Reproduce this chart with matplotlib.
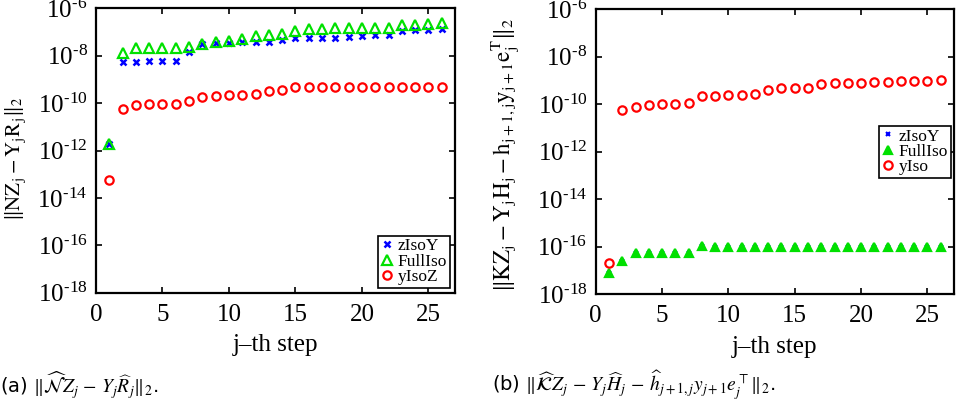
#!/usr/bin/env python3
# -*- coding: utf-8 -*-
"""
    Residual norms per step for the three isotropic variants
"""

import numpy as np
import matplotlib
matplotlib.use('Agg')
import matplotlib.pyplot as plt
from matplotlib.ticker import FixedLocator, FuncFormatter

plt.rcParams['font.family'] = ['Liberation Serif', 'DejaVu Serif']
plt.rcParams['mathtext.fontset'] = 'stix'

# step number
steps = np.arange(1, 27)

# (a) log10 of ||N Z_j - Y_j R_j||_2
a_zIsoY = np.array([-11.72, -8.28, -8.25, -8.21, -8.20, -8.20, -7.82, -7.49, -7.47,
                    -7.44, -7.42, -7.41, -7.40, -7.33, -7.25, -7.25, -7.25, -7.25,
                    -7.21, -7.16, -7.13, -7.12, -6.96, -6.93, -6.89, -6.88])
a_FullIso = np.array([-11.72, -7.89, -7.69, -7.68, -7.68, -7.68, -7.61, -7.49, -7.41,
                      -7.36, -7.27, -7.16, -7.13, -7.10, -6.95, -6.88, -6.86, -6.81,
                      -6.81, -6.81, -6.81, -6.81, -6.72, -6.69, -6.65, -6.62])
a_yIsoZ = np.array([-13.26, -10.23, -10.08, -10.02, -10.02, -10.02, -9.92, -9.73, -9.70,
                    -9.67, -9.67, -9.61, -9.50, -9.45, -9.33, -9.32, -9.32, -9.32,
                    -9.32, -9.32, -9.32, -9.32, -9.32, -9.32, -9.32, -9.32])

# (b) log10 of ||K Z_j - Y_j H_j - h y e^T||_2
b_zIsoY = np.array([-17.11, -16.61, -16.27, -16.27, -16.27, -16.27, -16.27, -15.97, -16.02,
                    -16.02, -16.02, -16.02, -16.02, -16.02, -16.02, -16.02, -16.02, -16.02,
                    -16.02, -16.02, -16.02, -16.02, -16.02, -16.02, -16.02, -16.02])
b_FullIso = b_zIsoY.copy()
b_yIso = np.array([-16.67, -10.25, -10.13, -10.02, -9.98, -9.98, -9.95, -9.65, -9.64,
                   -9.62, -9.59, -9.57, -9.42, -9.33, -9.33, -9.31, -9.15, -9.12,
                   -9.12, -9.10, -9.07, -9.06, -9.04, -9.03, -9.00, -8.98])

blue = '#0000ff'
green = '#00e000'
red = '#ff0000'


def pow_label(v, pos):
    k = int(round(np.log10(v)))
    return r'$\mathregular{10^{\text{-}%d}}$' % (-k)


def style_axis(ax):
    ax.set_yscale('log')
    ax.set_xlim(0, 27)
    ax.set_ylim(1e-18, 1e-6)
    ax.xaxis.set_major_locator(FixedLocator([0, 5, 10, 15, 20, 25]))
    ax.yaxis.set_major_locator(FixedLocator([10.0**k for k in range(-18, -5, 2)]))
    ax.yaxis.set_minor_locator(FixedLocator([]))
    ax.yaxis.set_major_formatter(FuncFormatter(pow_label))
    ax.tick_params(direction='in', top=True, right=True, length=4, width=1.2)
    ax.tick_params(axis='x', labelsize=18, pad=8)
    ax.tick_params(axis='y', labelsize=18, pad=6)
    for s in ax.spines.values():
        s.set_linewidth(1.6)
    ax.set_xlabel('j\u2013th step', fontsize=18, labelpad=6)


fig = plt.figure(figsize=(9.61, 4.01), dpi=100)
ax1 = fig.add_axes([0.0999, 0.270, 0.3736, 0.709])
ax2 = fig.add_axes([0.6199, 0.266, 0.3728, 0.711])

leg_opts = dict(fontsize=12.5, handlelength=0.8, handletextpad=0.2, borderpad=0.15,
                labelspacing=-0.05, fancybox=False, edgecolor='black', framealpha=1)

# Panel (a)
ax1.plot(steps, 10.0**a_zIsoY, 'x', color=blue, ms=4, mew=1.8, label='zIsoY')
ax1.plot(steps, 10.0**a_FullIso, '^', color=green, mfc='none', ms=7, mew=1.6,
         label='FullIso')
ax1.plot(steps, 10.0**a_yIsoZ, 'o', color=red, mfc='none', ms=6, mew=1.6,
         label='yIsoZ')
style_axis(ax1)
ax1.set_ylabel(r'$\|\mathrm{NZ_j} - \mathrm{Y_j R_j}\|_2$', fontsize=15)
ax1.yaxis.set_label_coords(-0.19, 0.47)
leg = ax1.legend(loc='lower right', borderaxespad=0.3, **leg_opts)
leg.get_frame().set_linewidth(1.2)

# Panel (b)
ax2.plot(steps, 10.0**b_zIsoY, 'x', color=blue, ms=3, mew=1.5, label='zIsoY')
ax2.plot(steps, 10.0**b_FullIso, '^', color=green, ms=6, mew=1.6, label='FullIso')
ax2.plot(steps, 10.0**b_yIso, 'o', color=red, mfc='none', ms=6, mew=1.6, label='yIso')
style_axis(ax2)
ax2.set_ylabel(r'$\|\mathrm{KZ_j} - \mathrm{Y_j H_j} - \mathrm{h_{j+1,j} y_{j+1} e_j^T}\|_2$',
               fontsize=16.5)
ax2.yaxis.set_label_coords(-0.205, 0.49)
leg = ax2.legend(loc='center right', borderaxespad=0.2, **leg_opts)
leg.get_frame().set_linewidth(1.2)

# captions
fig.text(0.0, 0.04,
         r'(a) $\|\widehat{\mathcal{N}}Z_j\, -\, Y_j\widehat{R}_j\|_2$.',
         fontsize=14, family='DejaVu Sans', va='center')
fig.text(0.512, 0.04,
         r'(b) $\|\widehat{\mathcal{K}}Z_j\, -\, Y_j\widehat{H}_j\, -\, '
         r'\widehat{h}_{j+1,j}y_{j+1}e_j^{\top}\|_2$.',
         fontsize=14, family='DejaVu Sans', va='center')

fig.savefig('out.png', dpi=100)
